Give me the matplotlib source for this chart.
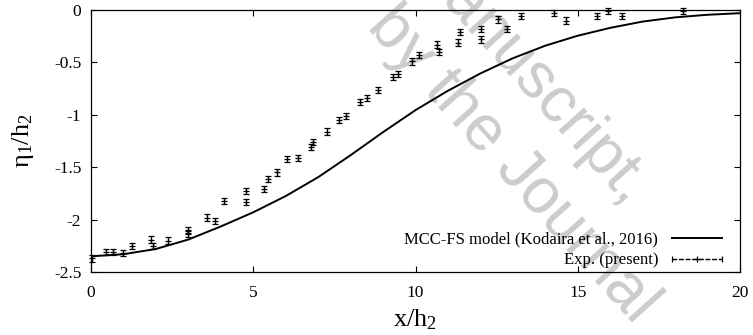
import numpy as np
import matplotlib
matplotlib.use("Agg")
import matplotlib.pyplot as plt
from matplotlib.container import ErrorbarContainer
from matplotlib.legend_handler import HandlerErrorbar

plt.rcParams['font.family'] = ['Liberation Serif', 'DejaVu Serif']
plt.rcParams['mathtext.fontset'] = 'custom'
plt.rcParams['mathtext.rm'] = 'Liberation Serif'
plt.rcParams['mathtext.it'] = 'Liberation Serif:italic'
plt.rcParams['axes.unicode_minus'] = False

# modelo MCC-FS
x_mod = [0, 1, 2, 3, 4, 5, 6, 7, 8, 9, 10, 11, 12, 13, 14, 15, 16, 17, 18, 19, 20]
y_mod = [-2.35, -2.33, -2.28, -2.19, -2.065, -1.93, -1.775, -1.595, -1.385, -1.165,
         -0.955, -0.77, -0.605, -0.46, -0.34, -0.245, -0.17, -0.11, -0.07, -0.045, -0.03]

# datos experimentales
x_exp = [0.02, 0.45, 0.67, 0.98, 1.25, 1.86, 1.92, 2.36, 3.0, 3.0, 3.56, 3.82, 4.10,
         4.78, 4.78, 5.34, 5.46, 5.73, 6.03, 6.37, 6.79, 6.85, 7.26, 7.64, 7.86, 8.29,
         8.50, 8.83, 9.32, 9.45, 9.88, 10.11, 10.65, 10.72, 11.31, 11.36, 12.01, 12.01,
         12.54, 12.83, 13.24, 14.26, 14.63, 15.59, 15.93, 16.37, 18.23]
y_exp = [-2.37, -2.31, -2.31, -2.32, -2.25, -2.19, -2.25, -2.20, -2.10, -2.14, -1.98,
         -2.01, -1.82, -1.73, -1.83, -1.71, -1.61, -1.55, -1.42, -1.41, -1.31, -1.26,
         -1.16, -1.05, -1.01, -0.88, -0.84, -0.76, -0.64, -0.61, -0.49, -0.43, -0.33,
         -0.40, -0.31, -0.21, -0.18, -0.28, -0.09, -0.18, -0.06, -0.03, -0.10, -0.06,
         -0.01, -0.06, -0.01]
y_err = [0.03] * len(x_exp)

x_ticks = [0, 5, 10, 15, 20]
y_ticks = [0, -0.5, -1, -1.5, -2, -2.5]

fig = plt.figure(figsize=(7.53, 3.35), dpi=100)
ax = fig.add_axes([0.1209, 0.188, 0.8618, 0.782])
ax.patch.set_alpha(0)

# marca de agua (detras de los datos)
wm = dict(color='#cccccc', fontsize=46, family='Liberation Sans', rotation=-48,
          rotation_mode='anchor', ha='center', va='center', zorder=0,
          transform=fig.transFigure, clip_on=False)
ax.text(0.680, 0.507, 'by the Journal', **wm)
ax.text(0.700, 0.775, 'manuscript,', **wm)

line, = ax.plot(x_mod, y_mod, color='black', lw=1.4, zorder=3)
ax.errorbar(x_exp, y_exp, yerr=y_err, fmt='+', color='black', ms=4, mew=0.9,
            elinewidth=0.9, capsize=2.2, capthick=0.9, ls='none', clip_on=False, zorder=4)

# proxy para la leyenda estilo gnuplot
proxy = ax.errorbar([np.nan], [np.nan], xerr=[0.1], fmt='+', ls='--', color='black',
                    ms=5, lw=0.9, mew=0.9, elinewidth=0.9, capsize=2.5, capthick=0.9)
proxy.lines[2][0].set_linestyle('--')

ax.set_xlim(0, 20)
ax.set_ylim(-2.5, 0)
ax.set_xticks(x_ticks)
ax.set_yticks(y_ticks)
ax.set_yticklabels(['%g' % v for v in y_ticks])
ax.tick_params(direction='in', top=True, right=True, length=4, width=0.8,
               labelsize=12.5)
ax.tick_params(axis='x', pad=9)
ax.tick_params(axis='y', pad=7)
for s in ax.spines.values():
    s.set_linewidth(0.9)
    s.set_zorder(5)

ax.set_xlabel(r'$\mathrm{x/h_2}$', fontsize=19, labelpad=5)
ax.set_ylabel(r'$\mathrm{\eta_1/h_2}$', fontsize=19, labelpad=13)

ax.legend([line, proxy], ['MCC-FS model (Kodaira et al., 2016)', 'Exp. (present)'],
          loc='lower right', frameon=False, markerfirst=False, fontsize=12,
          handlelength=3.0, handletextpad=0.8, labelspacing=0.28,
          borderaxespad=0.0, bbox_to_anchor=(0.982, -0.012),
          handler_map={ErrorbarContainer: HandlerErrorbar(xerr_size=1.5)})

fig.savefig('out.png', dpi=100)
